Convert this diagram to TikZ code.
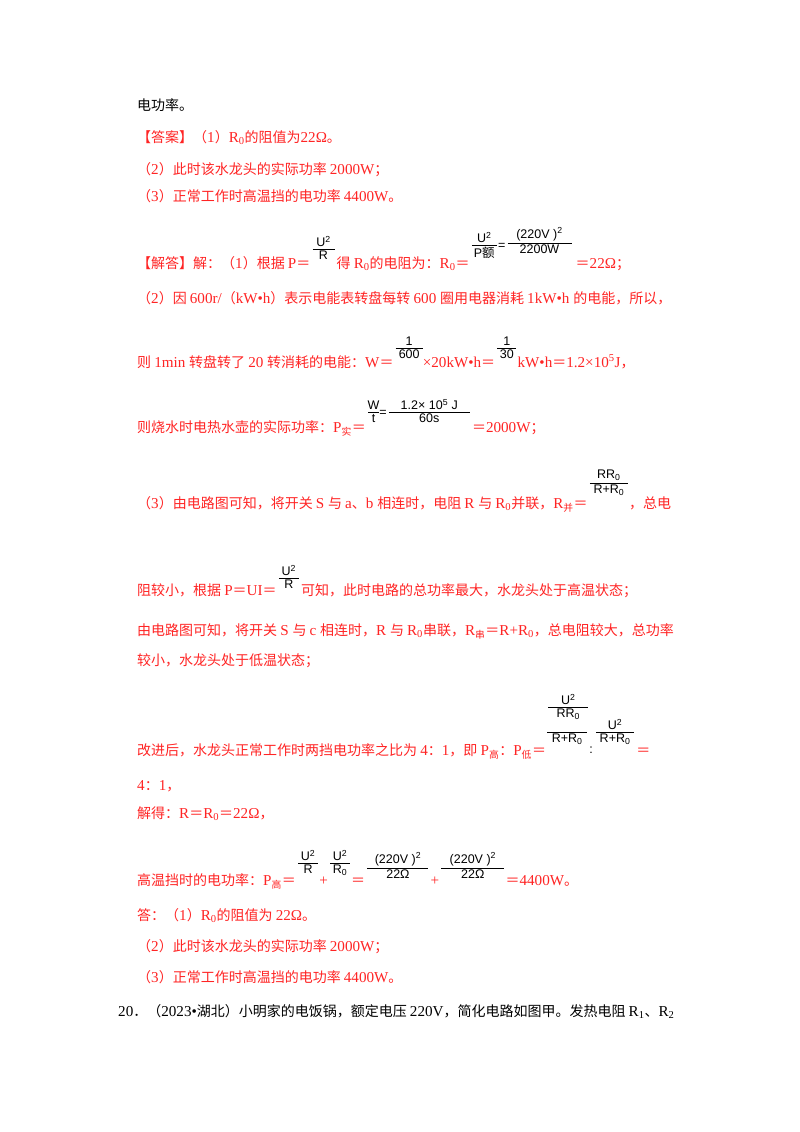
\documentclass[tikz,border=0pt]{standalone}
\usepackage{fontspec}
\usetikzlibrary{calc}
\setmainfont{Liberation Serif}
\newfontfamily\cjk{Noto Sans CJK SC}
\newfontfamily\serifl[Scale=1.08]{Liberation Serif}
\newfontfamily\ffont{Liberation Sans}
\def\latinsw{\serifl}
\def\latinf{\latinsw}
\XeTeXinterchartokenstate=1
\newXeTeXintercharclass\cjkclass
\count255="4E00
\loop\XeTeXcharclass\count255=\cjkclass\advance\count255 1 \ifnum\count255<"A000 \repeat
\count255="3000
\loop\XeTeXcharclass\count255=\cjkclass\advance\count255 1 \ifnum\count255<"3040 \repeat
\count255="FF00
\loop\XeTeXcharclass\count255=\cjkclass\advance\count255 1 \ifnum\count255<"FFF0 \repeat
\XeTeXinterchartoks 0 \cjkclass {\cjk}
\XeTeXinterchartoks 4095 \cjkclass {\cjk}
\XeTeXinterchartoks \cjkclass 0 {\latinf}
\XeTeXinterchartoks 4095 0 {\latinf}
\definecolor{ans}{HTML}{FF2424}
\tikzset{
  tx/.style={anchor=base west,inner sep=0pt,font=\fontsize{14}{14}\selectfont\serifl,text=ans},
  bk/.style={tx,text=black},
  ff/.style={inner sep=1pt,text=black,font=\def\latinsw{\ffont}\ffont\fontsize{12.5}{12.5}\selectfont}
}
% name, start point (node anchor), y of bar, width, num, den
\newcommand\frc[6]{%
  \coordinate (#1a) at ($(#2 |- 0,#3)+(2,0)$);
  \coordinate (#1b) at ($(#1a)+(#4,0)$);
  \draw[black,line width=0.6pt] (#1a) -- (#1b);
  \node[ff,anchor=south] (#1n) at ($(#1a)!0.5!(#1b)+(0,-1)$) {#5};
  \node[ff,anchor=north] (#1d) at ($(#1a)!0.5!(#1b)+(0,1)$) {#6};}
\begin{document}
\begin{tikzpicture}[x=1pt,y=-1pt]
\fill[white] (0,0) rectangle (800,1132);
\node[bk] (l1) at (137,110) {电功率。};
\node[tx] (l2) at (137,142) {【答案】（1）R\textsubscript{0}的阻值为22Ω。};
\node[tx] (l3) at (137,174) {（2）此时该水龙头的实际功率 2000W；};
\node[tx] (l4) at (137,201) {（3）正常工作时高温挡的电功率 4400W。};
% jieda
\node[tx] (a1) at (137,268) {【解答】解：（1）根据 P＝};
\frc{fa}{a1.base east}{249}{22}{U\textsuperscript{2}}{R}
\node[tx] (a2) at ($(fab |- 0,268)+(2,0)$) {得 R\textsubscript{0}的电阻为：R\textsubscript{0}＝};
\frc{fb}{a2.base east}{245}{25}{U\textsuperscript{2}}{P{\cjk 额}}
\node[ff,anchor=west,inner sep=0pt] (eqa) at ($(fbb)+(1,1)$) {=};
\frc{fc}{eqa.east}{243}{64}{(220V )\textsuperscript{2}}{2200W}
\node[tx] (a3) at ($(fcb |- 0,268)+(4,0)$) {＝22Ω；};
\node[tx] (b1) at (137,303) {（2）因 600r/（kW•h）表示电能表转盘每转 600 圈用电器消耗 1kW•h 的电能，所以，};
\node[tx] (c1) at (137,367) {则 1min 转盘转了 20 转消耗的电能：W＝};
\frc{fd}{c1.base east}{348}{27}{1}{600}
\node[tx] (c2) at ($(fdb |- 0,367)+(0,0)$) {×20kW•h＝};
\frc{fe}{c2.base east}{348}{19}{1}{30}
\node[tx] (c3) at ($(feb |- 0,367)+(1,0)$) {kW•h＝1.2×10\textsuperscript{5}J，};
\node[tx] (d1) at (137,432) {则烧水时电热水壶的实际功率：P\textsubscript{实}＝};
\frc{ff}{d1.base east}{412}{11}{W}{t}
\node[ff,anchor=west,inner sep=0pt] (eqd) at ($(ffb)+(0,1)$) {=};
\frc{fg}{eqd.east}{412}{81}{1.2× 10\textsuperscript{5} J}{60s}
\node[tx] (d2) at ($(fgb |- 0,432)+(2,0)$) {＝2000W；};
\node[tx] (e1) at (137,508) {（3）由电路图可知，将开关 S 与 a、b 相连时，电阻 R 与 R\textsubscript{0}并联，R\textsubscript{并}＝};
\frc{fh}{e1.base east}{483}{38}{RR\textsubscript{0}}{R+R\textsubscript{0}}
\node[tx] (e2) at ($(fhb |- 0,508)+(1,0)$) {，总电};
\node[tx] (g1) at (137,595) {阻较小，根据 P＝UI＝};
\frc{fi}{g1.base east}{578}{20}{U\textsuperscript{2}}{R}
\node[tx] (g2) at ($(fib |- 0,595)+(2,0)$) {可知，此时电路的总功率最大，水龙头处于高温状态；};
\node[tx] (h1) at (137,635) {由电路图可知，将开关 S 与 c 相连时，R 与 R\textsubscript{0}串联，R\textsubscript{串}＝R+R\textsubscript{0}，总电阻较大，总功率};
\node[tx] (h2) at (137,665) {较小，水龙头处于低温状态；};
\node[tx] (k1) at (137,755) {改进后，水龙头正常工作时两挡电功率之比为 4：1，即 P\textsubscript{高}：P\textsubscript{低}＝};
\frc{fj}{k1.base east}{707}{40}{U\textsuperscript{2}}{RR\textsubscript{0}}
\coordinate (fja2) at ($(fja |- 0,732)+(-1,0)$);
\draw[black,line width=0.9pt] (fja2) -- ++(40,0) coordinate (fjb2);
\node[ff,anchor=north] (fjd2) at ($(fja2)!0.5!(fjb2)+(0,1)$) {R+R\textsubscript{0}};
\node[ff,anchor=west] (col) at ($(fjb2)+(1,18)$) {:};
\frc{fk}{col.east}{732}{38}{U\textsuperscript{2}}{R+R\textsubscript{0}}
\node[tx] (k2) at ($(fkb |- 0,755)+(2,0)$) {＝};
\node[tx] (m1) at (137,790) {4：1，};
\node[tx] (n1) at (137,818) {解得：R＝R\textsubscript{0}＝22Ω，};
\node[tx] (p1) at (137,885) {高温挡时的电功率：P\textsubscript{高}＝};
\frc{fl}{p1.base east}{863}{20}{U\textsuperscript{2}}{R}
\node[tx] (pp1) at ($(flb |- 0,885)+(1,0)$) {+};
\frc{fm}{pp1.base east}{863}{20}{U\textsuperscript{2}}{R\textsubscript{0}}
\node[tx] (pe) at ($(fmb |- 0,885)+(1,0)$) {＝};
\frc{fn}{pe.base east}{868}{61}{(220V )\textsuperscript{2}}{22Ω}
\node[tx] (pp2) at ($(fnb |- 0,885)+(2,0)$) {+};
\frc{fo}{pp2.base east}{868}{63}{(220V )\textsuperscript{2}}{22Ω}
\node[tx] (p2) at ($(fob |- 0,885)+(1,0)$) {＝4400W。};
\node[tx] (q1) at (137,920) {答：（1）R\textsubscript{0}的阻值为 22Ω。};
\node[tx] (q2) at (137,951) {（2）此时该水龙头的实际功率 2000W；};
\node[tx] (q3) at (137,982) {（3）正常工作时高温挡的电功率 4400W。};
\node[bk] (r1) at (118,1016) {20．（2023•湖北）小明家的电饭锅，额定电压 220V，简化电路如图甲。发热电阻 R\textsubscript{1}、R\textsubscript{2}};
\end{tikzpicture}
\end{document}
